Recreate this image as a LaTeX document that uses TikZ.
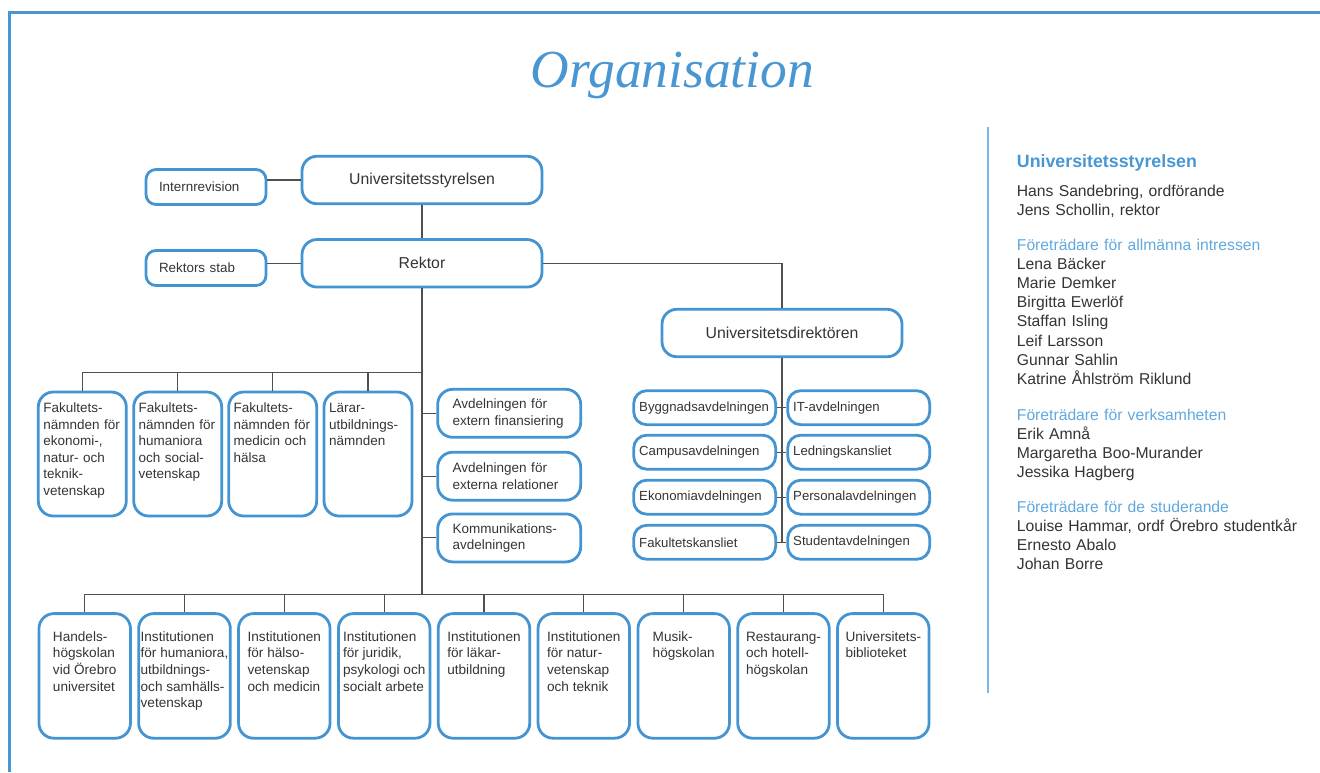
\documentclass[tikz,border=0pt]{standalone}
\usepackage{fontspec}
\setmainfont{Liberation Sans}
\newfontfamily\titelfont{Liberation Serif}
\usetikzlibrary{positioning}
\hyphenpenalty=10000

\definecolor{ramblue}{RGB}{72,150,210}
\definecolor{boxblue}{RGB}{68,148,209}
\definecolor{ljusblue}{RGB}{96,168,222}
\definecolor{panelline}{RGB}{128,182,226}
\definecolor{textgray}{RGB}{52,52,52}
\definecolor{linegray}{RGB}{80,80,80}

% rader i en ruta, baslinje vid forsta raden
\newcommand{\rader}[1]{\begin{tabular}[t]{@{}l@{}}#1\end{tabular}}

\begin{document}
\begin{tikzpicture}[x=1pt,y=-1pt,
  conn/.style={draw=linegray,line width=1.1pt},
  ram/.style={draw=boxblue,line width=2.8pt,text=textgray},
  bigbox/.style={ram,rounded corners=15pt,minimum width=240pt,minimum height=47.5pt,font=\fontsize{15.8}{19}\selectfont},
  sidebox/.style={ram,rounded corners=10pt,text width=94pt,inner xsep=13pt,minimum height=35pt,align=left,font=\fontsize{13.4}{16}\selectfont},
  fakbox/.style={ram,rounded corners=15pt,anchor=north,text width=78pt,inner xsep=5pt,inner ysep=4pt,text height=16.7pt,text depth=99.3pt,align=left,font=\fontsize{13.5}{16.5}\selectfont},
  avdbox/.style={ram,rounded corners=15pt,text width=113pt,inner xsep=15pt,minimum height=48pt,align=left,font=\fontsize{13.5}{16.7}\selectfont},
  dirbox/.style={ram,rounded corners=13pt,text width=131pt,inner xsep=5.5pt,minimum height=34pt,align=left,font=\fontsize{13.2}{16}\selectfont},
  instbox/.style={ram,rounded corners=15pt,anchor=north,minimum width=91.5pt,inner xsep=2pt,inner ysep=4pt,text height=23.5pt,text depth=93.1pt,font=\fontsize{13.6}{16.7}\selectfont},
  paneltext/.style={anchor=base west,text width=300pt,align=left,inner sep=0pt,text=textgray,font=\fontsize{15.7}{19.2}\selectfont},
  panelhead/.style={anchor=base west,inner sep=0pt,text=ramblue,font=\bfseries\fontsize{17.8}{21}\selectfont},
  titel/.style={anchor=base,inner sep=0pt,text=ramblue,font=\fontsize{53.5}{58}\selectfont\titelfont\itshape}
]
\useasboundingbox (0,0) rectangle (1320,772);

% Ram
\draw[draw=ramblue,line width=3pt] (9,772) -- (9,12.5) -- (1320,12.5);
\node[titel] (titel) at (672.5,87) {Organisation};

% Ledning
\node[bigbox] (styrelse) at (422,180) {Universitetsstyrelsen};
\node[bigbox] (rektor) at (422,263.3) {Rektor};
\node[sidebox] (intrev) at (206,187) {Internrevision};
\node[sidebox] (stab) at (206,268) {Rektors stab};
\node[bigbox] (direktor) at (782,333) {Universitetsdirektören};

\draw[conn] (styrelse) -- (rektor);
\draw[conn] (styrelse.west) -- (styrelse.west -| intrev.east);
\draw[conn] (rektor.west) -- (rektor.west -| stab.east);
\draw[conn] (rektor.east) -| (direktor.north);

% Fakultetsnämnder
\node[fakbox] (fak1) at (82.3,390.6) {Fakultets-\\nämnden för\\ekonomi-,\\natur- och\\teknik-\\vetenskap};
\node[fakbox] (fak2) at (177.7,390.6) {Fakultets-\\nämnden för\\humaniora\\och social-\\vetenskap};
\node[fakbox] (fak3) at (272.7,390.6) {Fakultets-\\nämnden för\\medicin och\\hälsa};
\node[fakbox] (fak4) at (368,390.6) {Lärar-\\utbildnings-\\nämnden};

\coordinate (toppgren) at (422,372.7);
\draw[conn] (fak1.north) |- (toppgren);
\draw[conn] (fak2.north) -- (fak2.north |- toppgren);
\draw[conn] (fak3.north) -- (fak3.north |- toppgren);
\draw[conn] (fak4.north) -- (fak4.north |- toppgren);

% Avdelningar under rektor
\node[avdbox] (avd1) at (509.2,413.3) {Avdelningen för\\extern finansiering};
\node[avdbox] (avd2) at (509.2,476.2) {Avdelningen för\\externa relationer};
\node[avdbox] (avd3) at (509.2,537.9) {Kommunikations-\\avdelningen};

\draw[conn] (avd1.west) -- (avd1.west -| rektor.south);
\draw[conn] (avd2.west) -- (avd2.west -| rektor.south);
\draw[conn] (avd3.west) -- (avd3.west -| rektor.south);

% Universitetsförvaltningen
\node[dirbox] (dirL1) at (704.7,407.7) {Byggnadsavdelningen};
\node[dirbox] (dirL2) at (704.7,452.2) {Campusavdelningen};
\node[dirbox] (dirL3) at (704.7,497.2) {Ekonomiavdelningen};
\node[dirbox] (dirL4) at (704.7,542.3) {Fakultetskansliet};
\node[dirbox] (dirR1) at (858.7,407.7) {IT-avdelningen};
\node[dirbox] (dirR2) at (858.7,452.2) {Ledningskansliet};
\node[dirbox] (dirR3) at (858.7,497.2) {Personalavdelningen};
\node[dirbox] (dirR4) at (858.7,542.3) {Studentavdelningen};

\draw[conn] (direktor.south) -- (direktor.south |- dirL4.east);
\draw[conn] (dirL1.east) -- (dirR1.west);
\draw[conn] (dirL2.east) -- (dirR2.west);
\draw[conn] (dirL3.east) -- (dirR3.west);
\draw[conn] (dirL4.east) -- (dirR4.west);

% Institutioner och skolor
\node[instbox] (inst1) at (84.7,612.2) {\rader{Handels-\\högskolan\\vid Örebro\\universitet}};
\node[instbox] (inst2) at (184.5,612.2) {\rader{Institutionen\\för humaniora,\\utbildnings-\\och samhälls-\\vetenskap}};
\node[instbox] (inst3) at (284.3,612.2) {\rader{Institutionen\\för hälso-\\vetenskap\\och medicin}};
\node[instbox] (inst4) at (384.2,612.2) {\rader{Institutionen\\för juridik,\\psykologi och\\socialt arbete}};
\node[instbox] (inst5) at (484,612.2) {\rader{Institutionen\\för läkar-\\utbildning}};
\node[instbox] (inst6) at (583.8,612.2) {\rader{Institutionen\\för natur-\\vetenskap\\och teknik}};
\node[instbox] (inst7) at (683.7,612.2) {\rader{Musik-\\högskolan}};
\node[instbox] (inst8) at (783.5,612.2) {\rader{Restaurang-\\och hotell-\\högskolan}};
\node[instbox] (inst9) at (883.3,612.2) {\rader{Universitets-\\biblioteket}};

\coordinate (bottengren) at (422,594.7);
\draw[conn] (rektor.south) -- (bottengren);
\draw[conn] (inst1.north) |- (bottengren);
\draw[conn] (inst9.north) |- (bottengren);
\draw[conn] (inst2.north) -- (inst2.north |- bottengren);
\draw[conn] (inst3.north) -- (inst3.north |- bottengren);
\draw[conn] (inst4.north) -- (inst4.north |- bottengren);
\draw[conn] (inst5.north) -- (inst5.north |- bottengren);
\draw[conn] (inst6.north) -- (inst6.north |- bottengren);
\draw[conn] (inst7.north) -- (inst7.north |- bottengren);
\draw[conn] (inst8.north) -- (inst8.north |- bottengren);

% Styrelsens ledamoter
\draw[draw=panelline,line width=2pt] (987.7,126.7) -- (987.7,693);
\node[panelhead] (panelrubrik) at (1016.7,167.7) {Universitetsstyrelsen};
\node[paneltext] (ordf) at (1016.7,196) {Hans Sandebring, ordförande\\Jens Schollin, rektor};
\node[paneltext] (allm) at (1016.7,250) {\textcolor{ljusblue}{Företrädare för allmänna intressen}\\Lena Bäcker\\Marie Demker\\Birgitta Ewerlöf\\Staffan Isling\\Leif Larsson\\Gunnar Sahlin\\Katrine Åhlström Riklund};
\node[paneltext] (verks) at (1016.7,420) {\textcolor{ljusblue}{Företrädare för verksamheten}\\Erik Amnå\\Margaretha Boo-Murander\\Jessika Hagberg};
\node[paneltext] (stud) at (1016.7,512.3) {\textcolor{ljusblue}{Företrädare för de studerande}\\Louise Hammar, ordf Örebro studentkår\\Ernesto Abalo\\Johan Borre};
\end{tikzpicture}
\end{document}
